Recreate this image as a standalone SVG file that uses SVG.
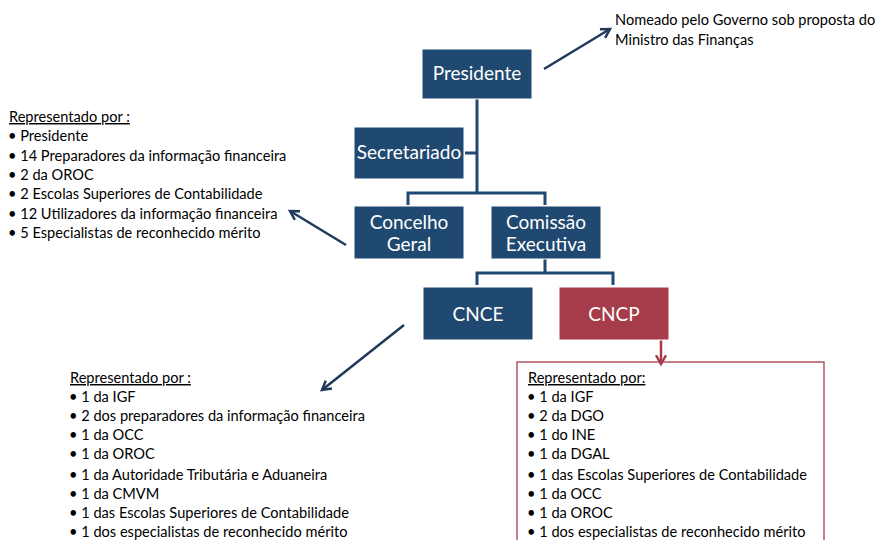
<svg xmlns="http://www.w3.org/2000/svg" width="882" height="540" viewBox="0 0 882 540">
<style>
.box{fill:#1F4970;stroke:#ffffff;stroke-width:1}
.red{fill:#A63C4A;stroke:#ffffff;stroke-width:1}
.bt{font-family:Lato,"Open Sans",sans-serif;font-size:19px;fill:#ffffff;text-anchor:middle}
.t{font-family:Lato,"Open Sans",sans-serif;font-size:14.6px;fill:#000000}
.u{text-decoration:underline}
.ln{fill:none;stroke:#1F4970;stroke-width:3}
.ar{fill:none;stroke:#1F3A5A;stroke-width:2.5}
</style>
<defs>
<marker id="ah" viewBox="0 0 10 10" refX="8" refY="5" markerWidth="5" markerHeight="5" orient="auto" markerUnits="strokeWidth">
<path d="M1,1 L8,5 L1,9" fill="none" stroke="#1F3A5A" stroke-width="2"/>
</marker>
<marker id="ahr" viewBox="0 0 10 10" refX="8" refY="5" markerWidth="5" markerHeight="5" orient="auto" markerUnits="strokeWidth">
<path d="M1,1 L8,5 L1,9" fill="none" stroke="#A63C4A" stroke-width="2"/>
</marker>
</defs>
<rect width="882" height="540" fill="#ffffff"/>
<g id="connectors">
<path class="ln" d="M477,99 V193 M408,205 V193 H545 V205 M465,153 H477"/>
<path class="ln" d="M545,259 V273 M477,285 V273 H613 V285"/>
<line class="ar" x1="544" y1="69" x2="610" y2="29" marker-end="url(#ah)"/>
<line class="ar" x1="346" y1="245" x2="290" y2="211" marker-end="url(#ah)"/>
<line class="ar" x1="404" y1="325" x2="322" y2="390" marker-end="url(#ah)"/>
<line stroke="#A63C4A" stroke-width="2.5" x1="661" y1="340" x2="661" y2="364" marker-end="url(#ahr)"/>
</g>
<g id="presidente">
<rect class="box" x="422" y="49" width="110" height="50"/>
<text class="bt" x="477" y="80">Presidente</text>
</g>
<g id="secretariado">
<rect class="box" x="354" y="127" width="110" height="52"/>
<text class="bt" x="409" y="159">Secretariado</text>
</g>
<g id="concelho">
<rect class="box" x="354" y="206" width="110" height="53"/>
<text class="bt" x="409" y="229">Concelho</text>
<text class="bt" x="409" y="251">Geral</text>
</g>
<g id="comissao">
<rect class="box" x="491" y="206" width="110" height="53"/>
<text class="bt" x="546" y="229">Comissão</text>
<text class="bt" x="546" y="251">Executiva</text>
</g>
<g id="cnce">
<rect class="box" x="423" y="287" width="110" height="53"/>
<text class="bt" x="478" y="321">CNCE</text>
</g>
<g id="cncp">
<rect class="red" x="559" y="287" width="110" height="53"/>
<text class="bt" x="614" y="321">CNCP</text>
</g>
<g id="nomeado">
<text class="t" x="615" y="25">Nomeado pelo Governo sob proposta do</text>
<text class="t" x="615" y="45">Ministro das Finanças</text>
</g>
<g id="lista-concelho">
<text class="t u" x="9" y="122">Representado por :</text>
<text class="t" x="8" y="141">• Presidente</text>
<text class="t" x="8" y="161">• 14 Preparadores da informação financeira</text>
<text class="t" x="8" y="180">• 2 da OROC</text>
<text class="t" x="8" y="199">• 2 Escolas Superiores de Contabilidade</text>
<text class="t" x="8" y="219">• 12 Utilizadores da informação financeira</text>
<text class="t" x="8" y="238">• 5 Especialistas de reconhecido mérito</text>
</g>
<g id="lista-cnce">
<text class="t u" x="70" y="383">Representado por :</text>
<text class="t" x="69" y="402">• 1 da IGF</text>
<text class="t" x="69" y="421">• 2 dos preparadores da informação financeira</text>
<text class="t" x="69" y="440">• 1 da OCC</text>
<text class="t" x="69" y="459">• 1 da OROC</text>
<text class="t" x="69" y="480">• 1 da Autoridade Tributária e Aduaneira</text>
<text class="t" x="69" y="499">• 1 da CMVM</text>
<text class="t" x="69" y="518">• 1 das Escolas Superiores de Contabilidade</text>
<text class="t" x="69" y="537">• 1 dos especialistas de reconhecido mérito</text>
</g>
<g id="lista-cncp">
<rect x="517" y="362" width="307" height="190" fill="none" stroke="#A63C4A" stroke-width="1.3"/>
<text class="t u" x="528" y="383">Representado por:</text>
<text class="t" x="527" y="402">• 1 da IGF</text>
<text class="t" x="527" y="421">• 2 da DGO</text>
<text class="t" x="527" y="440">• 1 do INE</text>
<text class="t" x="527" y="459">• 1 da DGAL</text>
<text class="t" x="527" y="480">• 1 das Escolas Superiores de Contabilidade</text>
<text class="t" x="527" y="499">• 1 da OCC</text>
<text class="t" x="527" y="518">• 1 da OROC</text>
<text class="t" x="527" y="537">• 1 dos especialistas de reconhecido mérito</text>
</g>
</svg>
